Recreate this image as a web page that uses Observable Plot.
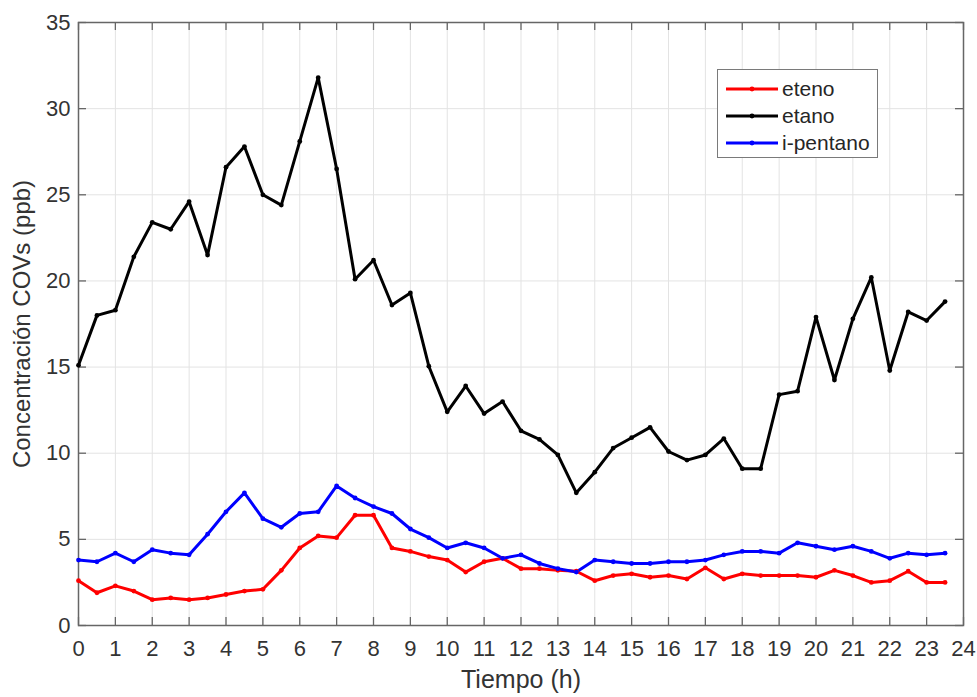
<!DOCTYPE html>
<html>
<head>
<meta charset="utf-8">
<script src="https://cdn.jsdelivr.net/npm/d3@7"></script>
<script src="https://cdn.jsdelivr.net/npm/@observablehq/plot@0.6"></script>
<style>
  html, body { margin: 0; padding: 0; background: #fff; }
  #wrap { position: relative; width: 977px; height: 697px; font-family: "Liberation Sans", Arial, Helvetica, sans-serif; }
  #legend { position: absolute; left: 717px; top: 69px; width: 159px; height: 87px; border: 1px solid #7a7a7a; background: #fff; box-sizing: content-box; }
  .item { position: absolute; left: 6px; height: 24px; display: flex; align-items: center; font-size: 21px; color: #262626; }
  .item svg { margin-right: 2px; }
</style>
</head>
<body>
<div id="wrap"></div>
<script>
// ---- data ----
const hours = [0,0.5,1,1.5,2,2.5,3,3.5,4,4.5,5,5.5,6,6.5,7,7.5,8,8.5,9,9.5,10,10.5,11,11.5,12,12.5,13,13.5,14,14.5,15,15.5,16,16.5,17,17.5,18,18.5,19,19.5,20,20.5,21,21.5,22,22.5,23,23.5];
const eteno = [2.6,1.9,2.3,2.0,1.5,1.6,1.5,1.6,1.8,2.0,2.1,3.2,4.5,5.2,5.1,6.4,6.4,4.5,4.3,4.0,3.8,3.1,3.7,3.9,3.3,3.3,3.2,3.15,2.6,2.9,3.0,2.8,2.9,2.7,3.35,2.7,3.0,2.9,2.9,2.9,2.8,3.2,2.9,2.5,2.6,3.15,2.5,2.5];
const etano = [15.1,18.0,18.3,21.4,23.4,23.0,24.6,21.5,26.6,27.8,25.0,24.4,28.1,31.8,26.5,20.1,21.2,18.6,19.3,15.05,12.4,13.9,12.3,13.0,11.3,10.8,9.9,7.7,8.9,10.3,10.9,11.5,10.1,9.6,9.9,10.85,9.1,9.1,13.4,13.6,17.9,14.25,17.8,20.2,14.8,18.2,17.7,18.8];
const ipentano = [3.8,3.7,4.2,3.7,4.4,4.2,4.1,5.3,6.6,7.7,6.2,5.7,6.5,6.6,8.1,7.4,6.9,6.5,5.6,5.1,4.5,4.8,4.5,3.9,4.1,3.6,3.3,3.1,3.8,3.7,3.6,3.6,3.7,3.7,3.8,4.1,4.3,4.3,4.2,4.8,4.6,4.4,4.6,4.3,3.9,4.2,4.1,4.2];
const seriesNames = ["eteno", "etano", "i-pentano"];
const seriesColors = ["#ff0000", "#000000", "#0000ff"];
const xTicks = d3.range(0, 25, 1);
const yTicks = d3.range(0, 36, 5);
const xLabel = "Tiempo (h)";
const yLabel = "Concentración COVs (ppb)";

const table = [];
[eteno, etano, ipentano].forEach((vals, i) => {
  vals.forEach((v, j) => table.push({series: seriesNames[i], hour: hours[j], value: v}));
});

const W = 977, H = 697;
const mL = 78, mR = 14, mT = 22, mB = 72;
const innerH = H - mT - mB, innerW = W - mL - mR;
const tickLen = 8;
const font = "'Liberation Sans', Arial, Helvetica, sans-serif";
const textColor = "#333333";

const chart = Plot.plot({
  width: W, height: H,
  marginLeft: mL, marginRight: mR, marginTop: mT, marginBottom: mB,
  style: {fontFamily: font, background: "#fff", color: textColor},
  x: {domain: [0, 24], ticks: xTicks},
  y: {domain: [0, 35], ticks: yTicks},
  color: {domain: seriesNames, range: seriesColors},
  marks: [
    Plot.gridX(xTicks, {stroke: "#e3e3e3", strokeOpacity: 1, strokeWidth: 1}),
    Plot.gridY(yTicks, {stroke: "#e3e3e3", strokeOpacity: 1, strokeWidth: 1}),
    // inward ticks on all four sides
    Plot.tickX(xTicks, {x: d => d, insetTop: innerH - tickLen, stroke: "#666", strokeWidth: 1.3}),
    Plot.tickX(xTicks, {x: d => d, insetBottom: innerH - tickLen, stroke: "#666", strokeWidth: 1.3}),
    Plot.tickY(yTicks, {y: d => d, insetRight: innerW - tickLen, stroke: "#666", strokeWidth: 1.3}),
    Plot.tickY(yTicks, {y: d => d, insetLeft: innerW - tickLen, stroke: "#666", strokeWidth: 1.3}),
    Plot.frame({stroke: "#666", strokeWidth: 1.5}),
    Plot.axisX(xTicks, {tickSize: 0, tickPadding: 15, fontSize: 22, label: null, fill: textColor}),
    Plot.axisY(yTicks, {tickSize: 0, tickPadding: 8, fontSize: 22, label: null, fill: textColor}),
    Plot.line(table, {x: "hour", y: "value", z: "series", stroke: "series", strokeWidth: 3, strokeLinejoin: "round"}),
    Plot.dot(table, {x: "hour", y: "value", fill: "series", r: 2.4, stroke: null}),
    Plot.text([xLabel], {text: d => d, frameAnchor: "bottom", dy: 62, fontSize: 25, fill: textColor, textAnchor: "middle"}),
    Plot.text([yLabel], {text: d => d, frameAnchor: "left", dx: -56, rotate: -90, fontSize: 24, fill: textColor, textAnchor: "middle"})
  ]
});

const wrap = document.getElementById("wrap");
wrap.appendChild(chart);

// legend (HTML overlay)
const legend = document.createElement("div");
legend.id = "legend";
const rowsTop = [7, 34, 61];
seriesNames.forEach((name, i) => {
  const item = document.createElement("div");
  item.className = "item";
  item.style.top = rowsTop[i] + "px";
  item.innerHTML = `<svg width="56" height="10"><line x1="2" y1="5" x2="54" y2="5" stroke="${seriesColors[i]}" stroke-width="3"/><circle cx="28" cy="5" r="2.4" fill="${seriesColors[i]}"/></svg><span>${name}</span>`;
  legend.appendChild(item);
});
wrap.appendChild(legend);
</script>
</body>
</html>
